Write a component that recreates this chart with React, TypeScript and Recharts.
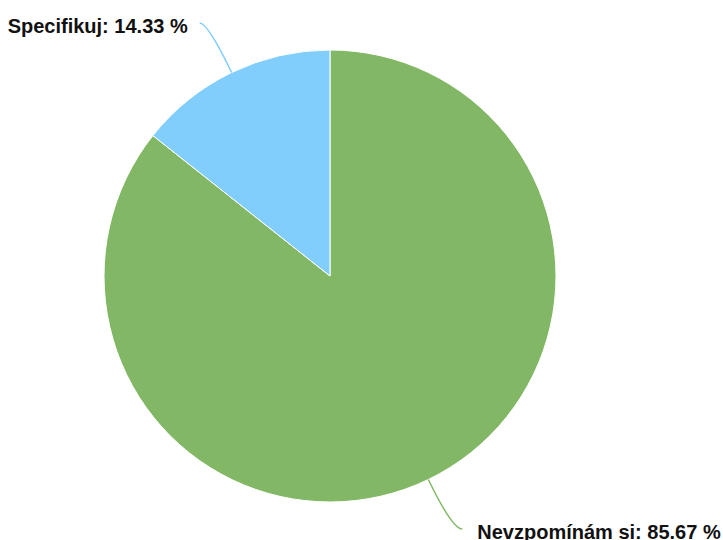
import { PieChart, Pie, Cell } from "recharts";

const categories = ["Nevzpomínám si", "Specifikuj"];
const shares = [85.67, 14.33];
const colors = ["#82b865", "#81cdfb"];

const data = categories.map((name, i) => ({ name, value: shares[i] }));

const RAD = Math.PI / 180;

function renderLabel(props: any) {
  const { cx, cy, midAngle, outerRadius, index, value, name } = props;
  const cos = Math.cos(-midAngle * RAD);
  const sin = Math.sin(-midAngle * RAD);
  const sx = cx + outerRadius * cos;
  const sy = cy + outerRadius * sin;
  const cxp = cx + (outerRadius + 55) * cos;
  const cyp = cy + (outerRadius + 55) * sin;
  const right = cos >= 0;
  const ex = cxp + (right ? 10 : -8);
  const ey = cyp;
  return (
    <g key={`lbl-${index}`}>
      <path
        d={`M${sx},${sy} Q${cxp},${cyp} ${ex},${ey}`}
        stroke={colors[index]}
        strokeWidth={1.5}
        fill="none"
      />
      <text
        x={ex + (right ? 15 : -12)}
        y={ey + 10}
        textAnchor={right ? "start" : "end"}
        fill="#111"
        fontSize={20}
        fontWeight="bold"
        fontFamily="'Liberation Sans', Arial, sans-serif"
      >
        {`${name}: ${value.toFixed(2)} %`}
      </text>
    </g>
  );
}

export default function App() {
  return (
    <div style={{ position: "absolute", left: 0, top: 0, width: 723, height: 540, background: "#fff" }}>
      <PieChart width={723} height={540} margin={{ top: 0, right: 0, bottom: 0, left: 0 }}>
        <Pie
          data={data}
          dataKey="value"
          nameKey="name"
          cx={330}
          cy={276}
          outerRadius={226}
          startAngle={90}
          endAngle={-270}
          stroke="#ffffff"
          strokeWidth={1}
          label={renderLabel}
          labelLine={false}
          isAnimationActive={false}
        >
          {data.map((d, i) => (
            <Cell key={d.name} fill={colors[i]} />
          ))}
        </Pie>
      </PieChart>
    </div>
  );
}
